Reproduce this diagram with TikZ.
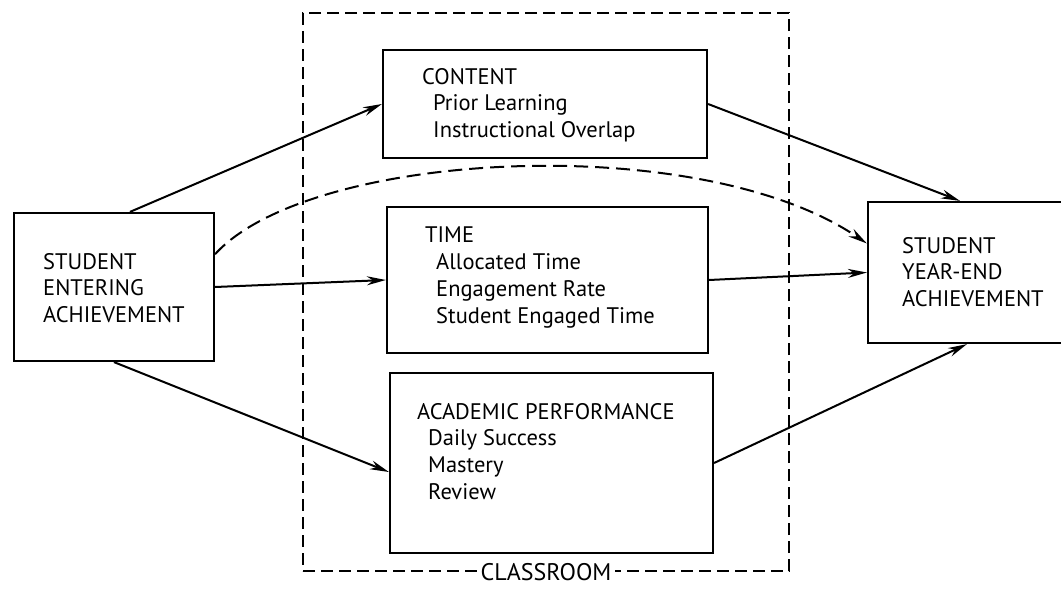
\documentclass[tikz,border=0pt]{standalone}
\usepackage{fontspec}
\setmainfont{PT Sans}
\usetikzlibrary{arrows.meta,positioning}
\newcommand{\indentby}{\hspace*{11pt}}

\begin{document}
\begin{tikzpicture}[x=1pt, y=-1pt]
    % Define styles
    \tikzset{
        box/.style={rectangle, draw=black, line width=2.2pt, inner sep=0pt},
        frame/.style={rectangle, draw=black, line width=1.5pt, dash pattern=on 12pt off 6pt, inner sep=0pt},
        txt/.style={anchor=north west, inner sep=0pt, align=left, font=\fontsize{22.5}{26.7}\selectfont},
        link/.style={-{Stealth[length=19pt,width=9pt]}, line width=2pt},
        hint/.style={link, dash pattern=on 14pt off 7pt}
    }
    \useasboundingbox (0,0) rectangle (1061,589);

    % Classroom frame
    \node[frame, minimum width=486pt, minimum height=558pt] (classroom) at (546,292) {};
    \node[fill=white, inner xsep=4pt, inner ysep=0pt, font=\fontsize{24}{27}\selectfont] (classlbl) at (classroom.south) {CLASSROOM};

    % Components
    \node[box, minimum width=200pt, minimum height=148pt] (entering) at (114,287) {};
    \node[box, minimum width=324pt, minimum height=108pt] (content) at (545,104) {};
    \node[box, minimum width=321pt, minimum height=146pt] (time) at (547.5,280) {};
    \node[box, minimum width=323pt, minimum height=180pt] (academic) at (551.5,463) {};
    \node[box, minimum width=220pt, minimum height=141pt] (yearend) at (978,272.5) {};

    % Box texts
    \node[txt] (enteringlbl) at (43,253) {STUDENT\\ENTERING\\ACHIEVEMENT};
    \node[txt] (contentlbl) at (422,68) {CONTENT\\\indentby Prior Learning\\\indentby Instructional Overlap};
    \node[txt] (timelbl) at (425,227) {TIME\\\indentby Allocated Time\\\indentby Engagement Rate\\\indentby Student Engaged Time};
    \node[txt] (academiclbl) at (417,403) {ACADEMIC PERFORMANCE\\\indentby Daily Success\\\indentby Mastery\\\indentby Review};
    \node[txt] (yearendlbl) at (902,237) {STUDENT\\YEAR-END\\ACHIEVEMENT};

    % Arrows
    \draw[link] ([xshift=16pt]entering.north) -- (content.west);
    \draw[hint] (entering.18) .. controls (310,150) and (700,130) .. ([yshift=29pt]yearend.west);
    \draw[link] (entering.east) -- (time.west);
    \draw[link] (entering.south) -- ([yshift=-9pt]academic.west);
    \draw[link] (content.east) -- ([xshift=-18pt]yearend.north);
    \draw[link] (time.east) -- (yearend.west);
    \draw[link] (academic.east) -- ([xshift=-11pt]yearend.south);
\end{tikzpicture}
\end{document}
